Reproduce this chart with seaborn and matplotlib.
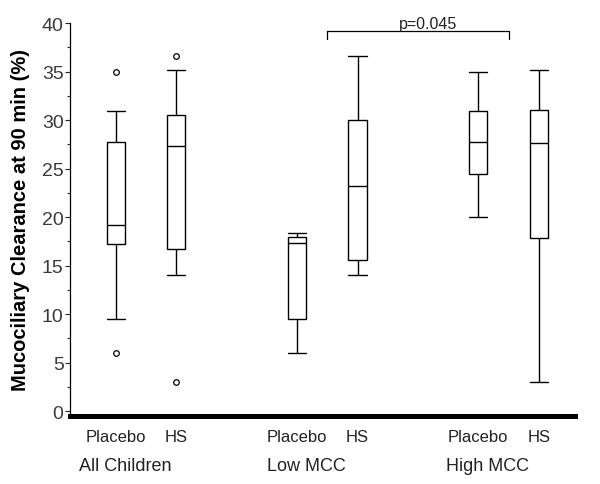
import numpy as np
import pandas as pd
import matplotlib
matplotlib.use('Agg')
import matplotlib.pyplot as plt
import seaborn as sns
from matplotlib.ticker import MultipleLocator

# ── Data ────────────────────────────────────────
groups     = ['All Children', 'Low MCC', 'High MCC']
treatments = ['Placebo', 'HS']

# five-number summary per box: All-P, All-HS, Low-P, Low-HS, High-P, High-HS
whisker_low  = [9.5, 14.0, 6.0, 14.0, 20.0, 3.0]
quartile_1   = [17.2, 16.7, 9.5, 15.6, 24.4, 17.8]
medians      = [19.2, 27.3, 17.3, 23.2, 27.7, 27.6]
quartile_3   = [27.7, 30.5, 17.9, 30.0, 30.9, 31.0]
whisker_high = [30.9, 35.2, 18.4, 36.6, 35.0, 35.2]

# points beyond the whiskers (box index, value)
outlier_box = [0, 0, 1, 1]
outlier_val = [35.0, 6.0, 36.6, 3.0]

p_label = 'p=0.045'
p_level = 39.2

# ── Layout ──────────────────────────────────────
GROUP_STEP = 3          # slots between group starts
n_t = len(treatments)
box_pos = [GROUP_STEP * g + t for g in range(len(groups)) for t in range(n_t)]

rows = []
for i, pos in enumerate(box_pos):
    for v in (whisker_low[i], quartile_1[i], medians[i],
              quartile_3[i], whisker_high[i]):
        rows.append({'pos': pos, 'value': v})
df = pd.DataFrame(rows)

out_df = pd.DataFrame({'pos': [box_pos[b] for b in outlier_box],
                       'value': outlier_val})

sns.set_style('white')
plt.rcParams['font.family'] = ['Liberation Sans', 'DejaVu Sans']

fig = plt.figure(figsize=(6.0, 4.85), dpi=100)
ax = fig.add_axes([70 / 600, 1 - 417 / 485, 505 / 600, (417 - 24) / 485])

sns.boxplot(data=df, x='pos', y='value', native_scale=True, orient='x',
            width=0.3, whis=(0, 100), color='white', linecolor='black',
            linewidth=1.0, fliersize=0, capwidths=0.3, ax=ax)
sns.scatterplot(data=out_df, x='pos', y='value', marker='o', s=16,
                facecolor='white', edgecolor='black', linewidth=0.9,
                zorder=5, ax=ax)

# ── p-value bracket ─────────────────────────────
x0 = GROUP_STEP * 1 + 0.5
x1 = GROUP_STEP * 2 + 0.5
ax.plot([x0, x0, x1, x1], [p_level - 0.8, p_level, p_level, p_level - 0.8],
        color='black', linewidth=0.9, clip_on=False)
ax.text((x0 + x1) / 2 + 0.17, p_level + 0.3, p_label, ha='center',
        va='baseline', fontsize=11.5, color='#222222', clip_on=False)

# ── Axes ────────────────────────────────────────
ax.set_xlim(-0.76, 7.6)
ax.set_ylim(-0.5, 40)
ax.yaxis.set_major_locator(MultipleLocator(5))
ax.yaxis.set_minor_locator(MultipleLocator(2.5))
ax.tick_params(axis='y', which='major', length=3.6, width=0.8,
               labelsize=14, labelcolor='#3a3a3a', pad=1, left=True)
ax.tick_params(axis='y', which='minor', length=2.2, width=0.8, left=True)

ax.set_xticks(box_pos, labels=treatments * len(groups))
ax.tick_params(axis='x', length=0, labelsize=12, labelcolor='#222222', pad=9)
for g, name in enumerate(groups):
    ax.text(GROUP_STEP * g + 0.15, -0.125, name,
            transform=ax.get_xaxis_transform(),
            ha='center', va='center', fontsize=13, color='#222222')

ax.set_xlabel('')
ax.set_ylabel('Mucociliary Clearance at 90 min (%)', fontsize=14.5,
              fontweight='bold', color='black')
ax.yaxis.set_label_coords(-0.08, 0.5)

sns.despine(ax=ax, top=True, right=True)
ax.spines['left'].set_linewidth(0.9)
ax.spines['left'].set_color('black')
ax.spines['bottom'].set_linewidth(3.6)
ax.spines['bottom'].set_color('black')

fig.savefig('out.png', dpi=100)
